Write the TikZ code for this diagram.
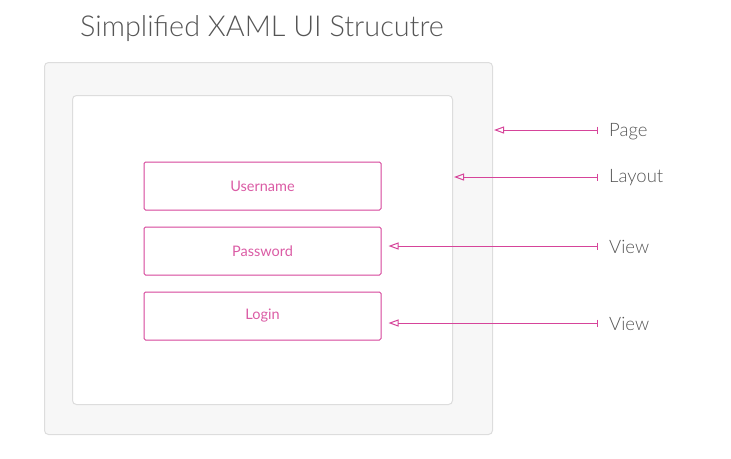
\documentclass[tikz,border=0pt]{standalone}
\usepackage{fontspec}
\setmainfont{Lato}[UprightFont=* Light]
\newfontfamily\regfont{Lato}
\usetikzlibrary{arrows.meta}
\definecolor{pinkc}{HTML}{D6449A}
\definecolor{pinktext}{HTML}{DB5CA5}
\definecolor{graytext}{HTML}{555555}
\definecolor{pagefill}{HTML}{F7F7F7}
\definecolor{boxline}{HTML}{DDDDDD}
\tikzset{
  panel/.style={draw=boxline, line width=1pt, rounded corners=4pt},
  field/.style={draw=pinkc, line width=1pt, rounded corners=1.5pt, minimum width=237pt, minimum height=48pt, inner sep=0pt, text=pinktext, font=\regfont\fontsize{14.5}{18}\selectfont},
  lbl/.style={anchor=west, text=graytext, inner sep=0pt, font=\fontsize{18.5}{22}\selectfont},
  pointer/.style={draw=pinkc, line width=1pt, {Bar[width=7pt,line width=1pt]}-{Triangle[open,length=10pt,width=7pt,line width=1pt]}}
}
\begin{document}
\begin{tikzpicture}[x=1pt,y=-1pt]
\useasboundingbox (0,0) rectangle (731,458);
\node[anchor=base west, text=graytext, inner sep=0pt, font=\fontsize{28.8}{34}\selectfont] (title) at (80,36) {Simplified XAML UI Strucutre};
\node[panel, fill=pagefill, minimum width=448pt, minimum height=372pt, inner sep=0pt, anchor=north west] (page) at (44,62) {};
\node[panel, fill=white, minimum width=380pt, minimum height=309pt, inner sep=0pt, anchor=north west] (layout) at (72,95) {};
\node[field] (user) at (262.5,186) {Username};
\node[field] (pass) at (262.5,251) {Password};
\node[field] (login) at (262.5,316) {Login};
\node[lbl] (lpage) at (609,131.5) {Page};
\node[lbl] (llayout) at (609,178) {Layout};
\node[lbl] (lview1) at (609,247) {View};
\node[lbl] (lview2) at (609,324) {View};
\coordinate (tpage) at (598,130);
\coordinate (tlayout) at (598,177);
\coordinate (tview1) at (598,246);
\coordinate (tview2) at (598,323);
\draw[pointer] (tpage) -- ([xshift=1pt]tpage -| page.east);
\draw[pointer] (tlayout) -- ([xshift=1pt]tlayout -| layout.east);
\draw[pointer] (tview1) -- ([xshift=7pt]tview1 -| pass.east);
\draw[pointer] (tview2) -- ([xshift=7pt]tview2 -| login.east);
\end{tikzpicture}
\end{document}
